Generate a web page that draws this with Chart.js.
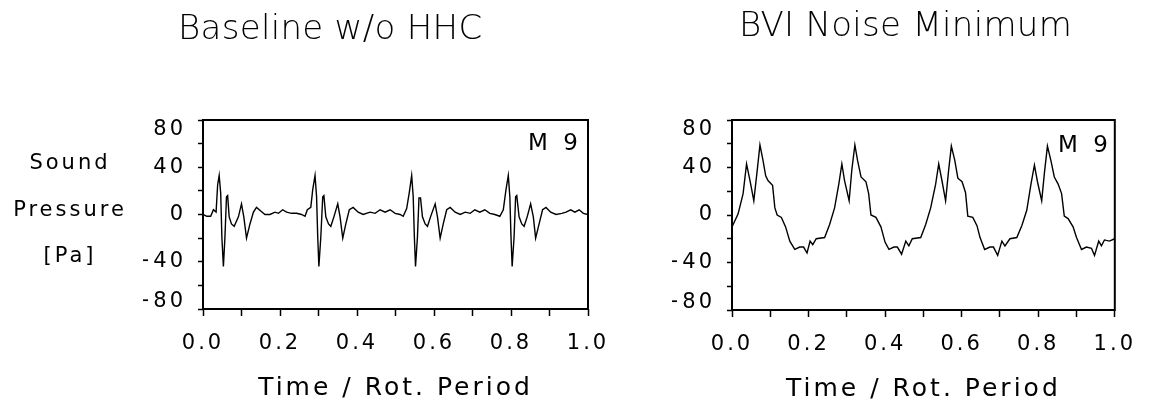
<!DOCTYPE html>
<html>
<head>
<meta charset="utf-8">
<script src="https://cdn.jsdelivr.net/npm/chart.js@4.4.1/dist/chart.umd.min.js"></script>
<style>
  body { margin: 0; background: #fff; }
  #wrap { position: relative; width: 1151px; height: 416px; font-family: 'DejaVu Sans', sans-serif; color: #000; }
  canvas { position: absolute; left: 0; top: 0; }
  .lbl { position: absolute; white-space: nowrap; }
  .title { font-size: 34px; line-height: 40px; letter-spacing: 0.3px; font-weight: 200; }
  .ylab { left: 0; width: 140px; top: 139px; text-align: center; font-size: 21px; line-height: 46.5px; letter-spacing: 3px; }
  .tag { font-size: 23px; line-height: 23px; letter-spacing: 4px; }
</style>
</head>
<body>
<div id="wrap">
  <canvas id="left" width="1151" height="416"></canvas>
  <canvas id="right" width="1151" height="416"></canvas>
  <div class="lbl title" style="left:178px; top:7px;">Baseline w/o HHC</div>
  <div class="lbl title" style="left:739px; top:4px;">BVI Noise Minimum</div>
  <div class="lbl ylab">Sound<br>Pressure<br>[Pa]</div>
  <div class="lbl tag" style="left:528px; top:131px;">M 9</div>
  <div class="lbl tag" style="left:1058px; top:133px;">M 9</div>
</div>
<script>
// time axis (fraction of rotor period) and sound pressure [Pa]
const baseT = [
  0.000, 0.010, 0.020, 0.027, 0.034, 0.038, 0.042, 0.046, 0.049, 0.053, 0.057, 0.061, 0.064, 0.068, 0.074, 0.081, 0.092, 0.100, 0.106, 0.113, 0.122, 0.131, 0.139, 0.150, 0.161, 0.174, 0.187, 0.196, 0.207, 0.217, 0.230, 0.243, 0.256, 0.265,
  0.271, 0.280, 0.285, 0.291, 0.295, 0.298, 0.301, 0.306, 0.311, 0.314, 0.319, 0.326, 0.332, 0.340, 0.350, 0.356, 0.363, 0.371, 0.380, 0.390, 0.403, 0.416, 0.434, 0.447, 0.460, 0.473, 0.486, 0.499, 0.512, 0.520,
  0.529, 0.536, 0.542, 0.546, 0.549, 0.552, 0.557, 0.561, 0.565, 0.570, 0.577, 0.583, 0.591, 0.603, 0.609, 0.616, 0.624, 0.633, 0.642, 0.655, 0.668, 0.681, 0.694, 0.706, 0.719, 0.732, 0.745, 0.758, 0.771,
  0.780, 0.787, 0.793, 0.797, 0.800, 0.803, 0.808, 0.812, 0.815, 0.821, 0.828, 0.834, 0.842, 0.851, 0.858, 0.864, 0.873, 0.882, 0.891, 0.903, 0.917, 0.932, 0.943, 0.955, 0.966, 0.977, 0.988, 1.000
];
const basePa = [
  0, -1.5, -1.5, 4, 2, 25, 33, 18, -19, -44, -19, 15, 16, -2, -8, -10, -2, 9, -2, -20, -8, 2, 6, 3, 0, 0, 2, 1, 4, 2, 1, 1, 0, -1.5,
  4, 6, 21, 33, 15, -19, -44, -19, 15, 16, -2, -8, -10, -2, 9, -2, -20, -8, 4, 6, 2, 0, 2, 1, 4, 2, 4, 1, 0, -1.5,
  5, 19, 33, 15, -19, -44, -19, 14, 14, -2, -8, -10, -2, 9, -2, -20, -8, 4, 6, 2, 0, 2, 1, 4, 2, 4, 1, 0, -1.5,
  4, 21, 33, 15, -19, -44, -19, 15, 16, -2, -8, -10, -2, 9, -2, -20, -8, 4, 6, 2, 0, 1, 2, 4, 2, 4, 1, 0
];

const bviT = [
  0.000, 0.016, 0.029, 0.038, 0.047, 0.057, 0.066, 0.073, 0.081, 0.088, 0.094, 0.106, 0.112, 0.118, 0.129, 0.140, 0.151, 0.164, 0.177, 0.187, 0.196, 0.204, 0.211, 0.220, 0.242, 0.255, 0.268,
  0.279, 0.287, 0.294, 0.306, 0.313, 0.321, 0.328, 0.337, 0.350, 0.357, 0.363, 0.376, 0.389, 0.400, 0.410, 0.423, 0.432, 0.443, 0.454, 0.462, 0.471, 0.493, 0.506, 0.519,
  0.532, 0.540, 0.549, 0.558, 0.566, 0.573, 0.582, 0.590, 0.601, 0.610, 0.616, 0.629, 0.640, 0.648, 0.660, 0.674, 0.683, 0.694, 0.705, 0.713, 0.726, 0.744, 0.757, 0.770,
  0.781, 0.790, 0.798, 0.809, 0.816, 0.824, 0.833, 0.842, 0.852, 0.861, 0.868, 0.878, 0.891, 0.900, 0.913, 0.926, 0.939, 0.947, 0.958, 0.965, 0.973, 0.986, 1.000
];
const bviPa = [
  -10, 1, 18, 43, 29, 12, 38, 59, 46, 33, 29, 25, 6, 0, -2, -10, -22, -29, -27, -27, -32, -22, -25, -20, -19, -8, 6,
  26, 43, 29, 12, 38, 59, 46, 32, 28, 18, 0, -2, -10, -23, -29, -27, -27, -33, -22, -26, -20, -19, -8, 6,
  26, 43, 28, 12, 38, 58, 46, 31, 28, 19, -1, -2, -9, -19, -29, -27, -27, -34, -22, -26, -20, -19, -9, 4,
  26, 42, 28, 12, 35, 58, 46, 32, 26, 18, -1, -3, -10, -19, -29, -27, -28, -34, -22, -26, -21, -22, -20
];

const xTicks = [0, 0.2, 0.4, 0.6, 0.8, 1.0];
const yTicks = [80, 40, 0, -40, -80];

Chart.defaults.font.family = "'DejaVu Sans', sans-serif";
Chart.defaults.color = '#000';

// plotter-style wide letter spacing + full frame box + nudged end labels
const plotterLook = {
  id: 'plotterLook',
  beforeUpdate(chart) { chart.ctx.letterSpacing = '3px'; },
  beforeDraw(chart) {
    chart.ctx.letterSpacing = '3px';
    const items = chart.scales.y.getLabelItems();
    if (!items._moved) {
      items.forEach(it => {
        if (it.label === '80') it.options.translation[1] += 10;
        if (it.label === '\u221280') it.options.translation[1] -= 7;
      });
      items._moved = true;
    }
  },
  afterDatasetsDraw(chart) {
    const { ctx, chartArea: a } = chart;
    ctx.save();
    ctx.strokeStyle = '#000';
    ctx.lineWidth = 2;
    ctx.strokeRect(a.left, a.top, a.right - a.left, a.bottom - a.top);
    ctx.restore();
  }
};

function makeChart(id, t, pa, pad) {
  return new Chart(document.getElementById(id), {
    type: 'line',
    data: {
      datasets: [{
        data: t.map((v, i) => ({ x: v, y: pa[i] })),
        borderColor: '#000',
        borderWidth: 1.4,
        pointRadius: 0,
        tension: 0,
        fill: false
      }]
    },
    options: {
      responsive: false,
      animation: false,
      layout: { padding: pad },
      plugins: { legend: { display: false }, tooltip: { enabled: false } },
      scales: {
        x: {
          type: 'linear',
          min: 0, max: 1,
          afterFit: s => { s.height = 100; },
          border: { display: false },
          grid: { drawOnChartArea: false, tickLength: 7, tickColor: '#000', tickWidth: 1.5 },
          ticks: {
            stepSize: 0.1, autoSkip: false, maxRotation: 0, padding: 15,
            font: { size: 21 }, color: '#000',
            callback: v => xTicks.some(k => Math.abs(k - v) < 1e-6) ? v.toFixed(1) : ''
          },
          title: { display: true, text: 'Time / Rot. Period', font: { size: 25 }, color: '#000', padding: { top: 0, bottom: 6 } }
        },
        y: {
          min: -80, max: 80,
          afterFit: s => { s.width = 60; },
          border: { display: false },
          grid: { drawOnChartArea: false, tickLength: 5, tickColor: '#000', tickWidth: 1.5 },
          ticks: {
            stepSize: 20, autoSkip: false, padding: 12,
            font: { size: 21 }, color: '#000',
            callback: v => yTicks.includes(v) ? (v < 0 ? '\u2212' + Math.abs(v) : String(v)) : ''
          }
        }
      }
    },
    plugins: [plotterLook]
  });
}

makeChart('left', baseT, basePa, { left: 143, right: 563, top: 120, bottom: 7 });
makeChart('right', bviT, bviPa, { left: 672, right: 34, top: 120, bottom: 6 });
</script>
</body>
</html>
